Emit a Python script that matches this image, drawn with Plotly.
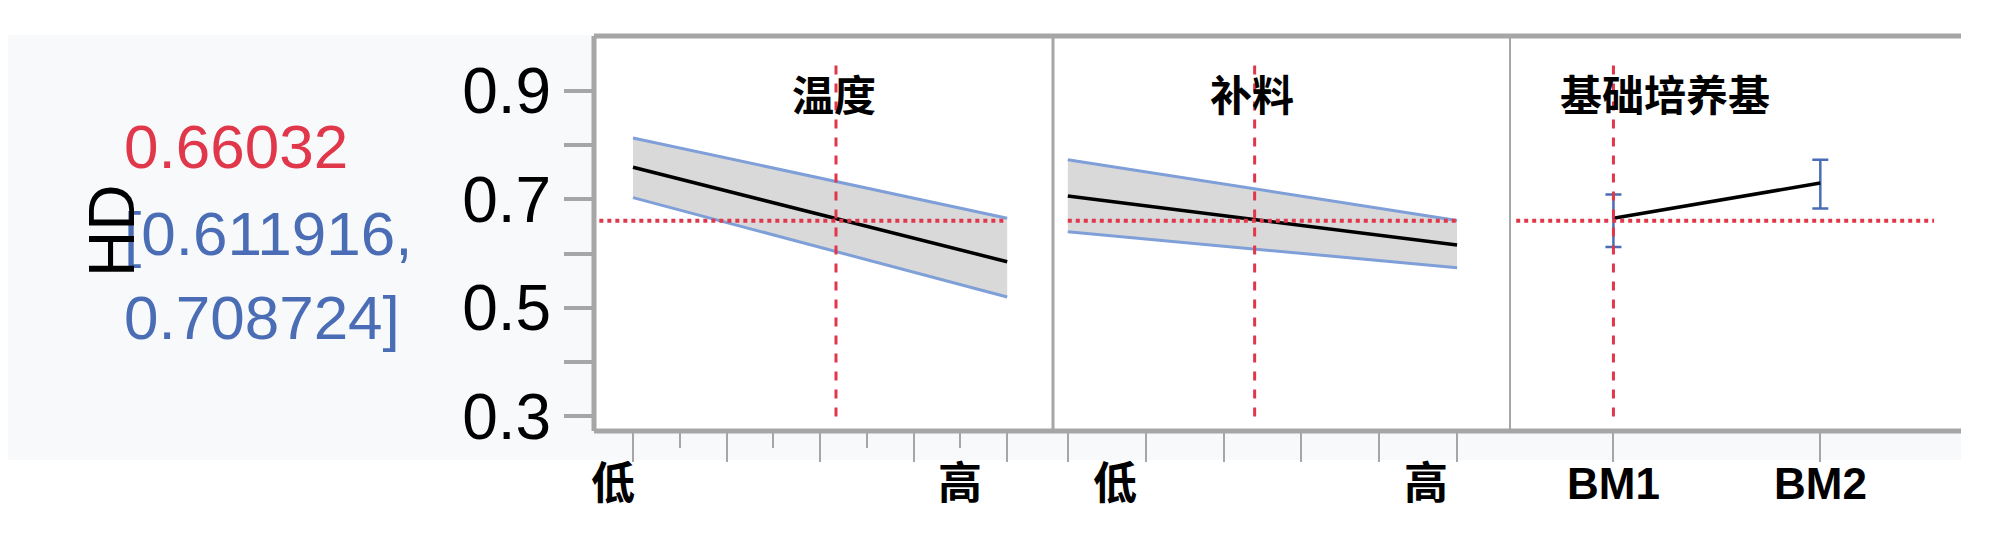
import plotly.graph_objects as go

W, H = 2000, 547
# data
pred = 0.66032
ci = [0.611916, 0.708724]
temp_x = [0, 4]
temp_mid = [0.759, 0.585]
temp_up = [0.813, 0.665]
temp_lo = [0.703, 0.520]
temp_cur = 2.17
feed_x = [0, 5]
feed_mid = [0.706, 0.616]
feed_up = [0.773, 0.661]
feed_lo = [0.640, 0.574]
feed_cur = 2.4
bm_cats = [0, 1]
bm_labels = ["BM1", "BM2"]
bm_mid = [0.665, 0.730]
bm_up = [0.709, 0.773]
bm_lo = [0.612, 0.683]
titles = ["温度", "补料", "基础培养基"]

def px(x): return x / W
def py(y): return 1 - y / H

L, D1, D2, R, T, B = 586, 1045, 1502, 1953, 29, 440
GR = "#a6a6a6"; RED = "#e0384a"; BLUE = "#4a6db5"; BAND = "#7f9fd8"
fig = go.Figure()

def band(x, up, lo, mid, ax):
    fig.add_trace(go.Scatter(x=x, y=lo, mode="lines", line=dict(color=BAND, width=3), xaxis=ax, yaxis="y", showlegend=False))
    fig.add_trace(go.Scatter(x=x, y=up, mode="lines", line=dict(color=BAND, width=3), fill="tonexty",
                             fillcolor="#d9d9d9", xaxis=ax, yaxis="y", showlegend=False))
    fig.add_trace(go.Scatter(x=x, y=mid, mode="lines", line=dict(color="black", width=3.5), xaxis=ax, yaxis="y", showlegend=False))

band(temp_x, temp_up, temp_lo, temp_mid, "x")
band(feed_x, feed_up, feed_lo, feed_mid, "x2")
fig.add_trace(go.Scatter(x=bm_cats, y=bm_mid, mode="lines", line=dict(color="black", width=3.5),
                         error_y=dict(type="data", symmetric=False,
                                      array=[u - m for u, m in zip(bm_up, bm_mid)],
                                      arrayminus=[m - l for m, l in zip(bm_mid, bm_lo)],
                                      color=BLUE, thickness=2.5, width=8),
                         xaxis="x3", yaxis="y", showlegend=False))

yrng = [0.273, 1.001]
common = dict(showgrid=False, zeroline=False, showline=False, ticks="outside", tickcolor=GR,
              tickwidth=2, ticklen=30, showticklabels=False, anchor="y")
fig.update_layout(
    width=W, height=H, margin=dict(l=0, r=0, t=0, b=0), paper_bgcolor="white", plot_bgcolor="white",
    xaxis=dict(domain=[px(L), px(D1)], range=[-0.417, 4.49], tickvals=[0, 1, 2, 3, 4],
               minor=dict(tickvals=[0.5, 1.5, 2.5, 3.5], ticks="outside", ticklen=16, tickcolor=GR, tickwidth=2), **common),
    xaxis2=dict(domain=[px(D1), px(D2)], range=[-0.19, 5.68], tickvals=[0, 1, 2, 3, 4, 5], **common),
    xaxis3=dict(domain=[px(D2), px(R)], range=[-0.50, 1.68], tickvals=[0, 1], **common),
    yaxis=dict(domain=[py(B), py(T)], range=yrng, showgrid=False, zeroline=False,
               tickvals=[0.3, 0.4, 0.5, 0.6, 0.7, 0.8, 0.9], ticktext=["0.3", "", "0.5", "", "0.7", "", "0.9"],
               ticks="outside", ticklen=29, tickwidth=4, tickcolor=GR,
               tickfont=dict(family="Liberation Sans", size=64, color="black")),
)

shapes = []
shapes.append(dict(type="rect", xref="paper", yref="paper", x0=0, x1=px(L), y0=py(470), y1=py(28),
                   fillcolor="#f7f9fb", line_width=0, layer="below"))
shapes.append(dict(type="rect", xref="paper", yref="paper", x0=px(L), x1=px(R), y0=py(470), y1=py(B),
                   fillcolor="#f7f9fb", line_width=0, layer="below"))
for (x0, y0, x1, y1, w) in [(L, T, R, T, 5), (L, B, R, B, 5), (L, T, L, B, 5), (D1, T, D1, B, 3), (D2, T, D2, B, 2)]:
    shapes.append(dict(type="line", xref="paper", yref="paper", x0=px(x0), x1=px(x1), y0=py(y0), y1=py(y1),
                       line=dict(color=GR, width=w)))
for ax, xc, hx in [("x", temp_cur, (-0.36, 4.0)), ("x2", feed_cur, (0.0, 5.0)), ("x3", 0, (-0.47, 1.55))]:
    shapes.append(dict(type="line", xref=ax, yref="y", x0=xc, x1=xc, y0=0.30, y1=0.949,
                       line=dict(color=RED, width=3, dash="dash")))
    shapes.append(dict(type="line", xref=ax, yref="y", x0=hx[0], x1=hx[1], y0=pred, y1=pred,
                       line=dict(color=RED, width=4, dash="dot")))
fig.update_layout(shapes=shapes)

ann = []
tf = dict(family="Noto Sans CJK SC", size=42, color="black")
for ax, xc, t in [("x", 2.15, titles[0]), ("x2", 2.36, titles[1]), ("x3", 0.25, titles[2])]:
    ann.append(dict(x=xc, y=py(88), xref=ax, yref="paper", yanchor="middle", text="<b>%s</b>" % t,
                    showarrow=False, font=tf))
bl = [("x", -0.21, "低"), ("x", 3.5, "高"), ("x2", 0.61, "低"), ("x2", 4.6, "高"),
      ("x3", 0, bm_labels[0]), ("x3", 1, bm_labels[1])]
for ax, xc, t in bl:
    ann.append(dict(x=xc, y=py(495), xref=ax, yref="paper", yanchor="middle", text="<b>%s</b>" % t,
                    showarrow=False, font=dict(family="Liberation Sans, Noto Sans CJK SC", size=44, color="black")))
lf = dict(family="Liberation Sans", size=62)
for y, t, c in [(144, "%.5f" % pred, RED), (234, "[%g," % ci[0], BLUE), (322, "%g]" % ci[1], BLUE)]:
    ann.append(dict(x=px(114), y=py(y), xref="paper", yref="paper", xanchor="left", yanchor="middle",
                    text=t, showarrow=False, font=dict(color=c, **lf)))
ann.append(dict(x=px(66), y=py(232), xref="paper", yref="paper", yanchor="middle", text="HD", textangle=-90,
                showarrow=False, font=dict(color="black", family="Liberation Sans", size=64)))
fig.update_layout(annotations=ann)
fig.write_html("out.html")
